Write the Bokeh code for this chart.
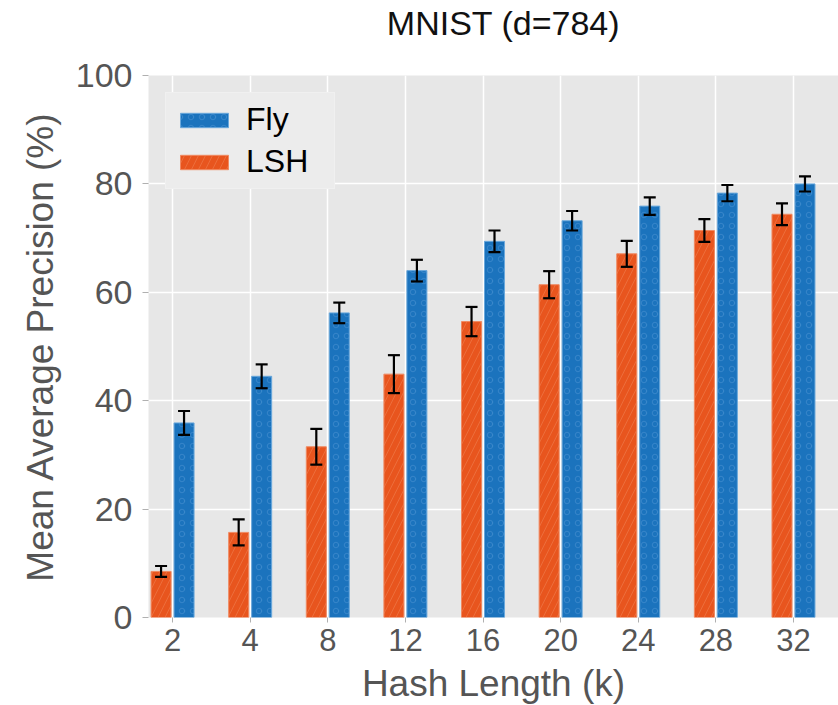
import numpy as np
from bokeh.plotting import figure
from bokeh.models import (ColumnDataSource, Range1d, FixedTicker, SingleIntervalTicker,
                          Whisker, TeeHead, Legend, LegendItem, LinearAxis)
from bokeh.transform import dodge
from bokeh.embed import file_html
from bokeh.resources import INLINE

# ---- data ----
hash_lengths = ["2", "4", "8", "12", "16", "20", "24", "28", "32"]
fly_map = [35.9, 44.5, 56.2, 64.0, 69.4, 73.2, 75.9, 78.3, 80.0]
fly_err = [2.2, 2.2, 1.9, 2.0, 2.0, 1.8, 1.6, 1.5, 1.4]
lsh_map = [8.5, 15.7, 31.5, 44.9, 54.6, 61.4, 67.1, 71.4, 74.4]
lsh_err = [1.0, 2.4, 3.3, 3.5, 2.7, 2.5, 2.4, 2.1, 2.0]
title_text = "MNIST (d=784)"
y_title = "Mean Average Precision (%)"
x_title = "Hash Length (k)"

FONT = "Liberation Sans"
BLUE = "#1b73bd"
ORANGE = "#e8551e"
idx = list(range(len(hash_lengths)))

src = ColumnDataSource(dict(
    x=idx,
    fly=fly_map,
    fly_lo=[v - e for v, e in zip(fly_map, fly_err)],
    fly_hi=[v + e for v, e in zip(fly_map, fly_err)],
    lsh=lsh_map,
    lsh_lo=[v - e for v, e in zip(lsh_map, lsh_err)],
    lsh_hi=[v + e for v, e in zip(lsh_map, lsh_err)],
))

p = figure(frame_width=690, frame_height=542,
           min_border_left=148, min_border_top=75, min_border_bottom=88, min_border_right=0,
           x_range=Range1d(-0.31, 8.58), y_range=Range1d(0, 100),
           output_backend="svg", toolbar_location=None)

p.background_fill_color = "#e7e7e7"
p.border_fill_color = "white"
p.outline_line_color = None

p.xgrid.grid_line_color = "white"
p.xgrid.grid_line_width = 1.5
p.ygrid.grid_line_color = "white"
p.ygrid.grid_line_width = 1.5

off = 0.148
w = 0.258
fly_r = p.vbar(x=dodge("x", off), top="fly", bottom=0, width=w, source=src,
               fill_color=BLUE, line_color="#6aa8dc", line_width=1,
               hatch_pattern="ring", hatch_color="#4f96d4", hatch_alpha=0.5,
               hatch_scale=11, hatch_weight=1)
lsh_r = p.vbar(x=dodge("x", -off), top="lsh", bottom=0, width=w, source=src,
               fill_color=ORANGE, line_color="#f08a62", line_width=1,
               hatch_pattern="right_diagonal_line", hatch_color="#f28a5e", hatch_alpha=0.45,
               hatch_scale=14, hatch_weight=1)

for b, lo, hi in [(dodge("x", off), "fly_lo", "fly_hi"), (dodge("x", -off), "lsh_lo", "lsh_hi")]:
    wk = Whisker(base=b, lower=lo, upper=hi, source=src,
                 line_color="black", line_width=2.2, level="overlay",
                 upper_head=TeeHead(size=12, line_color="black", line_width=2.2),
                 lower_head=TeeHead(size=12, line_color="black", line_width=2.2))
    p.add_layout(wk)

# main axes
p.xaxis.ticker = FixedTicker(ticks=idx)
p.xaxis.major_label_overrides = {i: s for i, s in zip(idx, hash_lengths)}
p.yaxis.ticker = SingleIntervalTicker(interval=20)
for ax in (p.xaxis[0], p.yaxis[0]):
    ax.axis_line_color = None
    ax.major_tick_line_color = "#b0b0b0"
    ax.major_tick_in = 0
    ax.minor_tick_line_color = None
    ax.major_label_text_font = FONT
    ax.major_label_text_color = "#555555"
    ax.axis_label_text_font = FONT
    ax.axis_label_text_font_size = "37px"
    ax.axis_label_text_font_style = "normal"
    ax.axis_label_text_color = "#555555"
p.xaxis.major_label_text_font_size = "31px"
p.yaxis.major_label_text_font_size = "34px"
p.xaxis.major_tick_out = 5
p.xaxis.major_label_standoff = 6
p.xaxis.axis_label = x_title
p.xaxis.axis_label_standoff = 9
p.yaxis.major_tick_out = 6
p.yaxis.major_label_standoff = 10

# y-axis title on an outer, tick-less axis (lets it sit further out)
ylab_axis = LinearAxis(ticker=FixedTicker(ticks=[]), axis_label=y_title,
                       axis_line_color=None, major_tick_line_color=None,
                       minor_tick_line_color=None, major_tick_out=0, major_tick_in=0,
                       major_label_text_font_size="0px",
                       axis_label_text_font=FONT, axis_label_text_font_size="37px",
                       axis_label_text_font_style="normal", axis_label_text_color="#555555",
                       axis_label_standoff=12)
p.add_layout(ylab_axis, "left")

# chart title on a tick-less axis above the frame
p.extra_x_ranges = {"title": Range1d(0, 690)}
title_pos = 355
title_axis = LinearAxis(x_range_name="title", ticker=FixedTicker(ticks=[title_pos]),
                        major_label_overrides={title_pos: title_text},
                        axis_line_color=None, major_tick_line_color=None,
                        minor_tick_line_color=None, major_tick_out=0, major_tick_in=0,
                        major_label_standoff=34,
                        major_label_text_font=FONT, major_label_text_font_size="34px",
                        major_label_text_color="#111111")
p.add_layout(title_axis, "above")

legend = Legend(items=[LegendItem(label="Fly", renderers=[fly_r]),
                       LegendItem(label="LSH", renderers=[lsh_r])],
                location="top_left", margin=17, padding=8, spacing=5,
                glyph_width=60, glyph_height=18, label_standoff=12,
                label_text_font=FONT, label_text_font_size="32px",
                label_text_color="black",
                background_fill_color="#ececec", background_fill_alpha=1.0,
                border_line_color="#f4f4f4", border_line_width=1.5)
legend.label_height = 36
legend.label_width = 80
p.add_layout(legend)

open("out.html", "w").write(file_html(p, INLINE))
